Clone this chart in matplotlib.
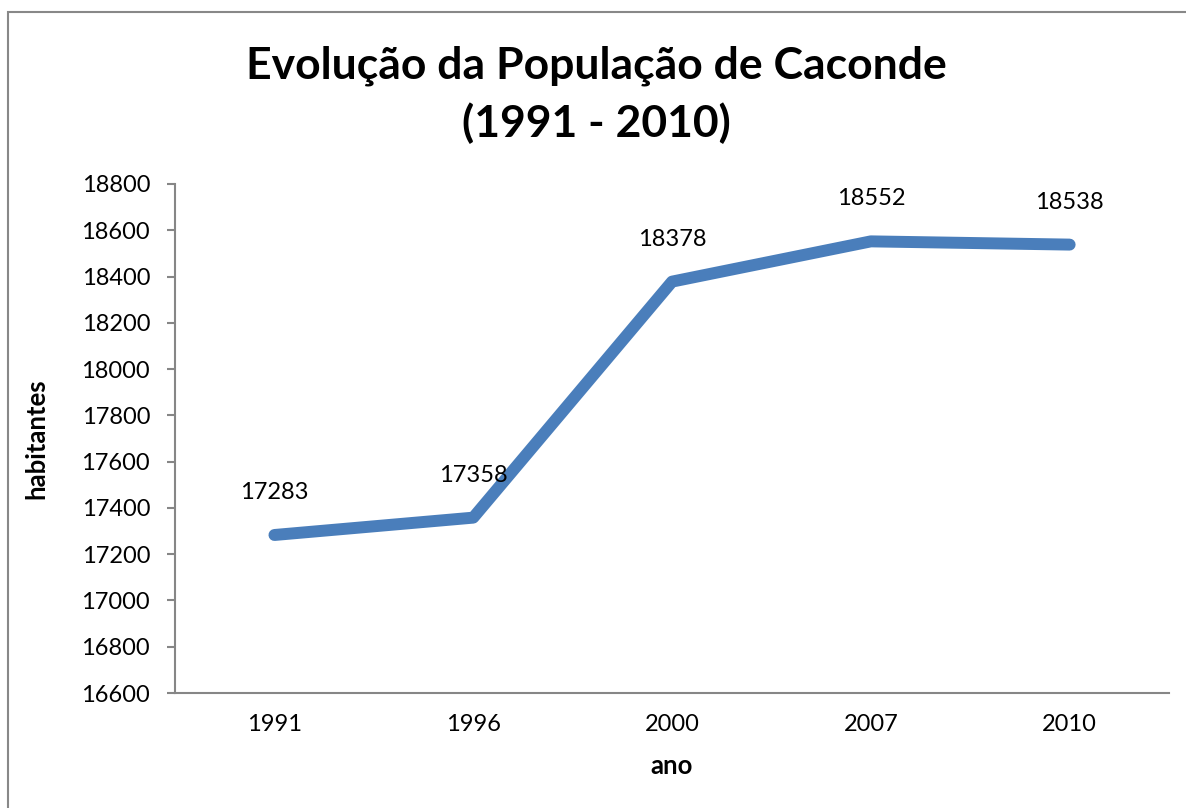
import matplotlib.pyplot as plt
from matplotlib.patches import Rectangle

# Dados
anos = ["1991", "1996", "2000", "2007", "2010"]
habitantes = [17283, 17358, 18378, 18552, 18538]
y_ticks = list(range(16600, 18801, 200))

plt.rcParams['font.family'] = ['Lato', 'DejaVu Sans']

fig = plt.figure(figsize=(11.86, 8.08), dpi=100)
ax = fig.add_axes([0.1476, 0.1423, 0.8381, 0.6300])

x = list(range(len(anos)))
ax.plot(x, habitantes, color='#4A7EBB', linewidth=8.6,
        solid_capstyle='round', solid_joinstyle='round')

for xi, v in zip(x, habitantes):
    ax.annotate(str(v), (xi, v), xytext=(0, 23), textcoords='offset points',
                ha='center', va='bottom', fontsize=17, color='black')

ax.set_xlim(-0.5, len(anos) - 0.5)
ax.set_ylim(16600, 18800)
ax.set_xticks(x)
ax.set_xticklabels(anos)
ax.set_yticks(y_ticks)
ax.tick_params(axis='x', length=0, pad=15, labelsize=17)
ax.tick_params(axis='y', length=6, width=1.5, color='#868686', pad=12, labelsize=17)

for s in ['top', 'right']:
    ax.spines[s].set_visible(False)
for s in ['left', 'bottom']:
    ax.spines[s].set_color('#868686')
    ax.spines[s].set_linewidth(1.5)

ax.set_xlabel("ano", fontsize=18.5, fontweight='bold', labelpad=14)
ax.set_ylabel("habitantes", fontsize=18.5, fontweight='bold', labelpad=24)

fig.text(0.5 + 0.003, 0.8824, "Evolução da População de Caconde\n(1991 - 2010)",
         ha='center', va='center', fontsize=32, fontweight='bold',
         linespacing=1.47)

# borda da área do gráfico
fig.patches.append(Rectangle((8 / 1186, -0.1), 1.2, 1 - 12.5 / 808 + 0.1,
                             transform=fig.transFigure, fill=False,
                             edgecolor='#888888', linewidth=1.5))

fig.savefig("out.png", dpi=100)
